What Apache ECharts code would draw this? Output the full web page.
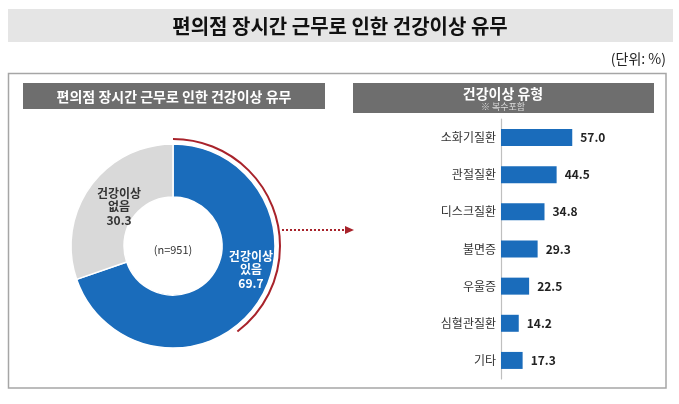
<!DOCTYPE html>
<html>
<head>
<meta charset="utf-8">
<script src="https://cdn.jsdelivr.net/npm/echarts@6/dist/echarts.min.js"></script>
<style>
html,body{margin:0;padding:0;background:#fff;}
#c{width:679px;height:404px;}
</style>
</head>
<body>
<div id="c"></div>
<script>
// ---- data ----
const mainTitle = '편의점 장시간 근무로 인한 건강이상 유무';
const unitText = '(단위: %)';
const pieTitle = '편의점 장시간 근무로 인한 건강이상 유무';
const pieNames = ['건강이상 있음', '건강이상 없음'];
const pieValues = [69.7, 30.3];
const sampleText = '(n=951)';
const barTitle = '건강이상 유형';
const barSubtitle = '※ 복수포함';
const barCategories = ['소화기질환', '관절질환', '디스크질환', '불면증', '우울증', '심혈관질환', '기타'];
const barValues = [57.0, 44.5, 34.8, 29.3, 22.5, 14.2, 17.3];

// ---- style ----
const FONT = '"Noto Sans CJK KR", "Noto Sans", sans-serif';
const BLUE = '#1a6cbb';
const GRAY = '#d9d9d9';
const RED = '#a8232b';
const PIE_C = [173, 246];
const PIE_R = [49, 102];
const labelShift = [[14, -22], [10, 6]];

const chart = echarts.init(document.getElementById('c'), null, {renderer: 'canvas'});

const option = {
  backgroundColor: '#ffffff',
  animation: false,
  textStyle: {fontFamily: FONT},
  graphic: [
    {type: 'rect', shape: {x: 8, y: 9, width: 665, height: 33}, style: {fill: '#e5e5e5'}, z: 0},
    {type: 'text', x: 340, y: 26, style: {text: mainTitle, fill: '#111', font: 'bold 20px ' + FONT, align: 'center', verticalAlign: 'middle'}},
    {type: 'text', x: 666, y: 59, style: {text: unitText, fill: '#222', font: '14px ' + FONT, align: 'right', verticalAlign: 'middle'}},
    {type: 'rect', shape: {x: 8.5, y: 73.5, width: 657.5, height: 314.5}, style: {fill: 'none', stroke: '#a6a6a6', lineWidth: 1.5}, z: 0},
    {type: 'rect', shape: {x: 23, y: 83, width: 302, height: 26}, style: {fill: '#6e6e6e'}, z: 1},
    {type: 'text', x: 174, y: 96.5, style: {text: pieTitle, fill: '#fff', font: 'bold 14px ' + FONT, align: 'center', verticalAlign: 'middle'}, z: 2},
    {type: 'rect', shape: {x: 353, y: 83, width: 301, height: 30}, style: {fill: '#6e6e6e'}, z: 1},
    {type: 'text', x: 503, y: 93.5, style: {text: barTitle, fill: '#fff', font: 'bold 14px ' + FONT, align: 'center', verticalAlign: 'middle'}, z: 2},
    {type: 'text', x: 503, y: 106.5, style: {text: barSubtitle, fill: '#dcdcdc', font: '9px ' + FONT, align: 'center', verticalAlign: 'middle'}, z: 2},
    {type: 'arc', shape: {cx: PIE_C[0], cy: PIE_C[1], r: 107, startAngle: -Math.PI / 2, endAngle: 53 * Math.PI / 180, clockwise: true},
      style: {stroke: RED, lineWidth: 2, fill: null}, z: 5},
    {type: 'line', shape: {x1: 282, y1: 230, x2: 347, y2: 230}, style: {stroke: RED, lineWidth: 2, lineDash: [2, 2]}, z: 5},
    {type: 'polygon', shape: {points: [[345, 226], [354, 230], [345, 234]]}, style: {fill: RED}, z: 5},
    {type: 'text', x: PIE_C[0], y: PIE_C[1] + 4, style: {text: sampleText, fill: '#333', font: '11px ' + FONT, align: 'center', verticalAlign: 'middle'}, z: 5}
  ],
  grid: {left: 501, top: 119, width: 125, height: 260, containLabel: false},
  xAxis: {type: 'value', min: 0, max: 100, show: false},
  yAxis: {
    type: 'category', data: barCategories, inverse: true,
    axisLine: {show: true, lineStyle: {color: '#bfbfbf', width: 1.2}},
    axisTick: {show: false},
    axisLabel: {color: '#333', fontSize: 12, margin: 5, fontFamily: FONT}
  },
  series: [
    {
      type: 'pie',
      center: PIE_C,
      radius: PIE_R,
      startAngle: 90,
      clockwise: true,
      silent: true,
      data: pieNames.map((n, i) => ({
        name: n, value: pieValues[i],
        itemStyle: {color: i === 0 ? BLUE : GRAY},
        label: {color: i === 0 ? '#ffffff' : '#333333'}
      })),
      itemStyle: {borderColor: '#fff', borderWidth: 1.5},
      label: {
        show: true, position: 'inside', fontWeight: 'bold', fontSize: 12, lineHeight: 13.5, fontFamily: FONT,
        formatter: p => p.name.replace(' ', '\n') + '\n' + p.value.toFixed(1)
      },
      labelLayout: p => ({dx: labelShift[p.dataIndex][0], dy: labelShift[p.dataIndex][1]}),
      labelLine: {show: false}
    },
    {
      type: 'bar',
      data: barValues,
      barWidth: 17,
      itemStyle: {color: BLUE},
      label: {show: true, position: 'right', distance: 8, color: '#222', fontWeight: 'bold', fontSize: 12, fontFamily: FONT,
        formatter: p => p.value.toFixed(1)}
    }
  ]
};
chart.setOption(option);
</script>
</body>
</html>
